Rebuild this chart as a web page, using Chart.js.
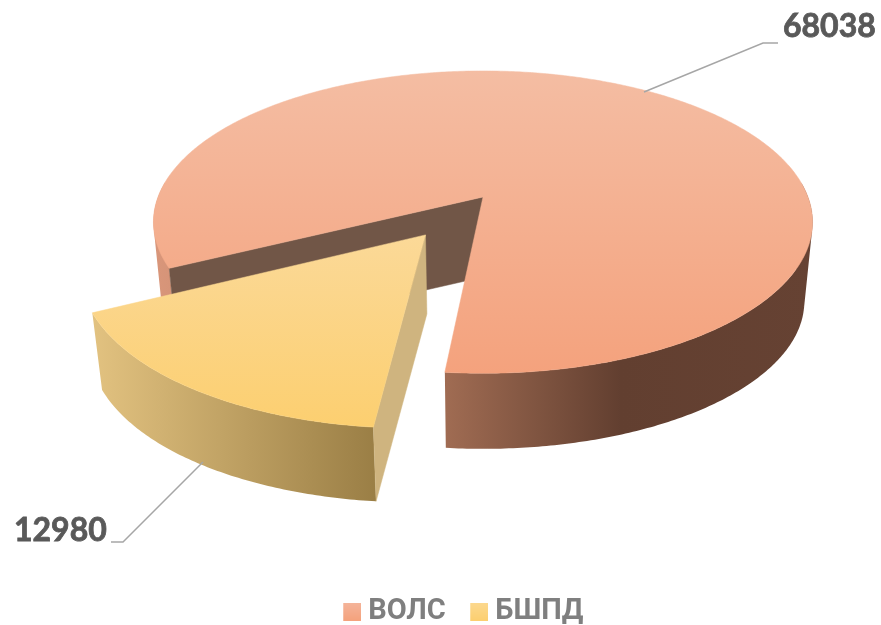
<!DOCTYPE html>
<html>
<head>
<meta charset="utf-8">
<title>ВОЛС / БШПД</title>
<style>
    html, body { margin: 0; padding: 0; background: #fff; }
    canvas { display: block; }
</style>
<script src="https://cdn.jsdelivr.net/npm/chart.js@4"></script>
</head>
<body>
<canvas id="pieChart" width="881" height="625"></canvas>
<script>
const labels = ['ВОЛС', 'БШПД'];
const values = [68038, 12980];

// disc projection, fitted by eye to the picture
const view = { x: 483, y: 197, rx: 325, ry: 147, persp: 0.166, depth: 80, shrink: 0.975 };

function project(u, v, lower) {
    const w = 1 - view.persp * v;
    const s = lower ? view.shrink : 1;
    return {
        x: view.x + s * view.rx * u / w,
        y: view.y + (lower ? view.depth : 0) + s * view.ry * v / w
    };
}

function tracePoints(ctx, points) {
    points.forEach((p, i) => i ? ctx.lineTo(p.x, p.y) : ctx.moveTo(p.x, p.y));
    ctx.closePath();
}

// all quads must wind the same way, or nonzero fill cancels where they overlap
function sameWinding(points) {
    let area = 0;
    points.forEach((p, i) => {
        const q = points[(i + 1) % points.length];
        area += p.x * q.y - q.x * p.y;
    });
    return area < 0 ? points.slice().reverse() : points;
}

function polygon(ctx, points, fill) {
    ctx.beginPath();
    tracePoints(ctx, points);
    ctx.fillStyle = fill;
    ctx.fill();
    ctx.strokeStyle = fill;
    ctx.lineWidth = 0.5;
    ctx.stroke();
}

function gradient(ctx, x0, y0, x1, y1, stops) {
    const g = ctx.createLinearGradient(x0, y0, x1, y1);
    stops.forEach(s => g.addColorStop(s[0], s[1]));
    return g;
}

const sliceStyles = [
    {
        top: [71, 373, [[0, '#f4bda3'], [1, '#f4a27d']]],
        side: [150, 813, [[0, '#da977b'], [0.45, '#9f6b52'], [0.71, '#623f30'], [1, '#664233']]],
        wall: '#715647'
    },
    {
        top: [235, 427, [[0, '#fbd998'], [1, '#fccf70']]],
        side: [93, 377, [[0, '#e2c280'], [1, '#9a7e45']]],
        wall: '#cfb47f'
    }
];

const leaders = [
    { line: [[644, 92], [763, 43], [778, 43]], x: 783, y: 27 },
    { line: [[203, 462], [123, 542], [111, 542]], x: 14, y: 531 }
];

const pie3d = {
    id: 'pie3d',
    beforeDatasetsDraw(chart) {
        const ctx = chart.ctx;
        const arcs = chart.getDatasetMeta(0).data;
        ctx.save();
        arcs.forEach((arc, i) => {
            const style = sliceStyles[i];
            const mid = (arc.startAngle + arc.endAngle) / 2;
            const off = arc.options.offset / arc.outerRadius;
            const du = Math.cos(mid) * off;
            const dv = Math.sin(mid) * off;
            const topRim = [];
            const lowRim = [];
            const angles = [];
            const steps = Math.ceil((arc.endAngle - arc.startAngle) * 90);
            for (let n = 0; n <= steps; n++) {
                const a = arc.startAngle + (arc.endAngle - arc.startAngle) * n / steps;
                angles.push(a);
                topRim.push(project(du + Math.cos(a), dv + Math.sin(a), false));
                lowRim.push(project(du + Math.cos(a), dv + Math.sin(a), true));
            }
            const apexTop = project(du, dv, false);
            const apexLow = project(du, dv, true);

            // outer side, only the part facing the viewer, filled as one path so no seams
            ctx.beginPath();
            for (let n = 0; n < steps; n++) {
                if (Math.sin(angles[n]) > -0.1) {
                    tracePoints(ctx, sameWinding([topRim[n], topRim[n + 1], lowRim[n + 1], lowRim[n]]));
                }
            }
            ctx.fillStyle = gradient(ctx, style.side[0], 0, style.side[1], 0, style.side[2]);
            ctx.fill();
            // the cut face that can be seen
            polygon(ctx, [apexTop, topRim[0], lowRim[0], apexLow], style.wall);
            // top face
            polygon(ctx, [apexTop].concat(topRim),
                gradient(ctx, 0, style.top[0], 0, style.top[1], style.top[2]));
        });

        // value labels with leader lines
        ctx.font = 'bold 32px Lato, "Open Sans", sans-serif';
        ctx.textBaseline = 'middle';
        ctx.textAlign = 'left';
        leaders.forEach((l, i) => {
            ctx.beginPath();
            l.line.forEach((p, n) => n ? ctx.lineTo(p[0], p[1]) : ctx.moveTo(p[0], p[1]));
            ctx.strokeStyle = '#a6a6a6';
            ctx.lineWidth = 1.5;
            ctx.stroke();
            ctx.fillStyle = '#595959';
            ctx.strokeStyle = '#595959';
            ctx.lineWidth = 0.8;
            ctx.fillText(String(values[i]), l.x, l.y);
            ctx.strokeText(String(values[i]), l.x, l.y);
        });
        ctx.restore();
        return false;
    }
};

// legend marker: drawn off centre so it sits closer to its text
function legendMarker(top, bottom) {
    const c = document.createElement('canvas');
    c.width = 33;
    c.height = 18;
    const g = c.getContext('2d');
    g.fillStyle = gradient(g, 0, 0, 0, 18, [[0, top], [1, bottom]]);
    g.fillRect(15, 0, 18, 18);
    return c;
}

const markers = [legendMarker('#f4b59b', '#f4a27d'), legendMarker('#fcd98f', '#fccf70')];

new Chart(document.querySelector('#pieChart'), {
    type: 'pie',
    plugins: [pie3d],
    data: {
        labels: labels,
        datasets: [{
            data: values,
            backgroundColor: ['#f4ab8b', '#fdd486'],
            borderWidth: 0,
            offset: [0, 75]
        }]
    },
    options: {
        responsive: false,
        animation: false,
        radius: 250,
        rotation: 243.3,
        layout: { padding: { bottom: -11, left: 38 } },
        plugins: {
            tooltip: { enabled: false },
            legend: {
                position: 'bottom',
                labels: {
                    usePointStyle: true,
                    pointStyleWidth: 18,
                    padding: 17,
                    color: '#7f7f7f',
                    font: { size: 29, weight: 'bold', family: 'Roboto, "Liberation Sans", sans-serif' },
                    generateLabels: () => labels.map((text, i) => ({
                        text: text,
                        pointStyle: markers[i],
                        fontColor: '#7f7f7f',
                        lineWidth: 0,
                        strokeStyle: 'transparent',
                        fillStyle: 'transparent',
                        hidden: false,
                        index: i
                    }))
                }
            }
        }
    }
});
</script>
</body>
</html>
